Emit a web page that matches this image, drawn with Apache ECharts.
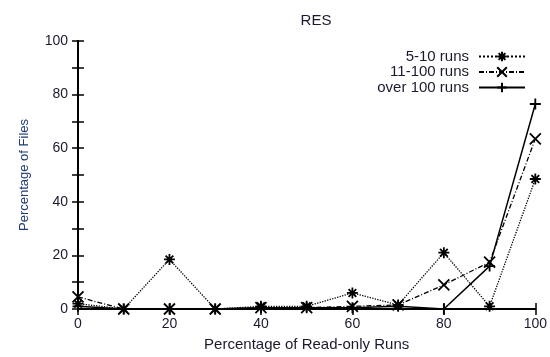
<!DOCTYPE html>
<html>
<head>
<meta charset="utf-8">
<script src="https://cdn.jsdelivr.net/npm/echarts@6/dist/echarts.min.js"></script>
<style>
html,body{margin:0;padding:0;background:#fff;}
#c{width:550px;height:357px;}
</style>
</head>
<body>
<div id="c"></div>
<script>
const xValues = [0, 10, 20, 30, 40, 50, 60, 70, 80, 90, 100];
const runs5to10 = [2, 0, 18.5, 0, 1, 1, 6, 1.5, 21, 1, 48.5];
const runs11to100 = [4.5, 0, 0, 0, 0.5, 0.5, 1, 1.5, 9, 17.5, 63.5];
const runsOver100 = [1, 0, 0, 0, 0.5, 0.5, 0.5, 1, 0, 16, 76.5];
const seriesNames = ['5-10 runs', '11-100 runs', 'over 100 runs'];

const asterisk = 'path://M0,5L10,5M5,0L5,10M1.5,1.5L8.5,8.5M8.5,1.5L1.5,8.5';
const cross = 'path://M0,0L10,10M10,0L0,10';
const plus = 'path://M0,5L10,5M5,0L5,10';

const FONT = 'Liberation Sans, Arial, sans-serif';
const TXT = '#1a1a2e';

function pairs(arr){ return xValues.map((x,i)=>[x, arr[i]]); }

const chart = echarts.init(document.getElementById('c'), null, {renderer:'canvas'});
const axisLine = {show:true, lineStyle:{color:'#000', width:2}};
const tick = {show:true, inside:true, length:6, lineStyle:{color:'#000', width:1.5}};

function mk(name, data, sym, ls){
  return {
    name, type:'line', data: pairs(data),
    symbol: sym, symbolSize: 11, showSymbol:true,
    lineStyle: Object.assign({color:'#000', width:1.3}, ls),
    itemStyle: {color:'#000', borderColor:'#000', borderWidth:1.8},
    emphasis:{disabled:true}, animation:false
  };
}

chart.setOption({
  animation:false,
  backgroundColor:'#fff',
  title:{text:'RES', left:311, top:8, textAlign:'center',
    textStyle:{fontFamily:FONT, fontSize:15, fontWeight:'normal', color:TXT}},
  grid:{left:78, right:6, top:41, bottom:43, containLabel:false},
  legend:{
    orient:'vertical', right:19, top:44, align:'right',
    itemWidth:46, itemHeight:12, itemGap:0.5,
    textStyle:{fontFamily:FONT, fontSize:15, lineHeight:14, color:TXT, padding:[0,5,0,0]},
    data: seriesNames
  },
  xAxis:[
    {type:'value', min:0, max:100, interval:20, position:'bottom',
     name:'Percentage of Read-only Runs', nameLocation:'middle', nameGap:28,
     nameTextStyle:{fontFamily:FONT, fontSize:15, color:TXT},
     axisLine, axisTick:tick, splitLine:{show:false},
     axisLabel:{fontFamily:FONT, fontSize:14, color:TXT, margin:8}},
    {type:'value', min:0, max:100, interval:20, position:'top',
     axisLine, axisTick:tick, splitLine:{show:false}, axisLabel:{show:false}}
  ],
  yAxis:[
    {type:'value', min:0, max:100, interval:10, position:'left',
     name:'Percentage of Files', nameLocation:'middle', nameGap:47,
     nameTextStyle:{fontFamily:FONT, fontSize:13, color:'#1f3a78'},
     axisLine, axisTick:tick, splitLine:{show:false},
     axisLabel:{fontFamily:FONT, fontSize:14, color:TXT, margin:10,
       formatter: v => (v % 20 === 0 ? String(v) : '')}},
    {type:'value', min:0, max:100, interval:10, position:'right',
     axisLine, axisTick:tick, splitLine:{show:false}, axisLabel:{show:false}}
  ],
  series:[
    mk(seriesNames[0], runs5to10, asterisk, {type:'dotted'}),
    mk(seriesNames[1], runs11to100, cross, {type:[5,2,1,2]}),
    mk(seriesNames[2], runsOver100, plus, {type:'solid', width:1.5})
  ]
});
</script>
</body>
</html>
